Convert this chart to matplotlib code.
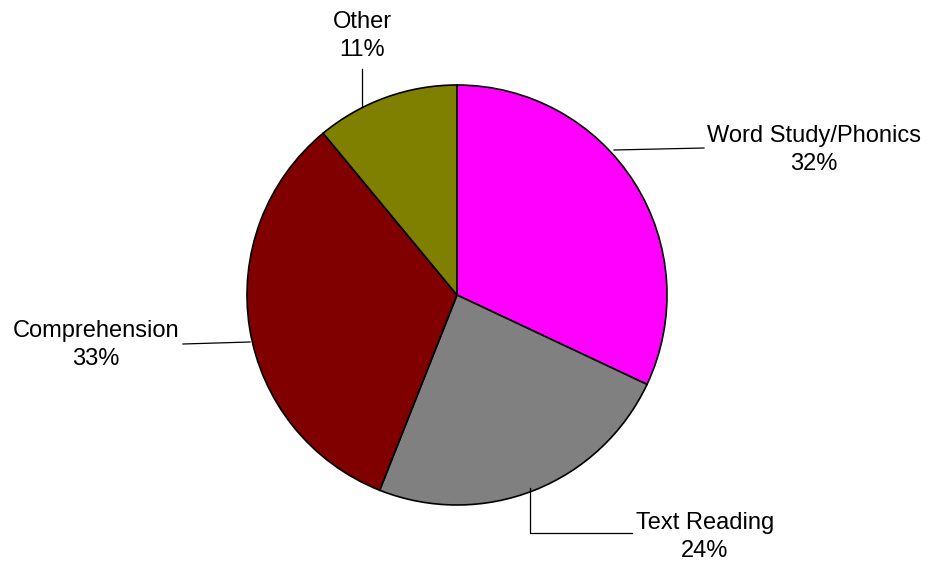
import matplotlib.pyplot as plt

labels = ["Word Study/Phonics", "Text Reading", "Comprehension", "Other"]
shares = [32, 24, 33, 11]
colors = ["#ff00ff", "#808080", "#800000", "#808000"]

W, H = 929, 561

fig = plt.figure(figsize=(W / 100, H / 100), dpi=100)
ax = fig.add_axes([0, 0, 1, 1])

cx, cy, r = 457, H - 295, 210
ax.pie(shares, colors=colors, startangle=90, counterclock=False,
       center=(cx, cy), radius=r,
       wedgeprops=dict(edgecolor="black", linewidth=1.2))

ax.set_xlim(0, W)
ax.set_ylim(0, H)
ax.set_aspect("equal")
ax.axis("off")

font = dict(family="Liberation Sans", fontsize=17, ha="center", va="center",
            linespacing=1.35)

# label text and leader lines (pixel coordinates, y from top)
texts = [
    (814, 150, [(614, 150), (704, 148)]),
    (705, 537, [(530, 488), (530, 533), (632, 533)]),
    (96, 345, [(250, 342), (183, 344)]),
    (362, 36, [(362, 107), (362, 69)]),
]
for (tx, ty, pts), lab, val in zip(texts, labels, shares):
    ax.text(tx, H - ty, f"{lab}\n{val}%", **font)
    xs = [p[0] for p in pts]
    ys = [H - p[1] for p in pts]
    ax.plot(xs, ys, color="black", linewidth=0.9)

fig.savefig("out.png", dpi=100)
